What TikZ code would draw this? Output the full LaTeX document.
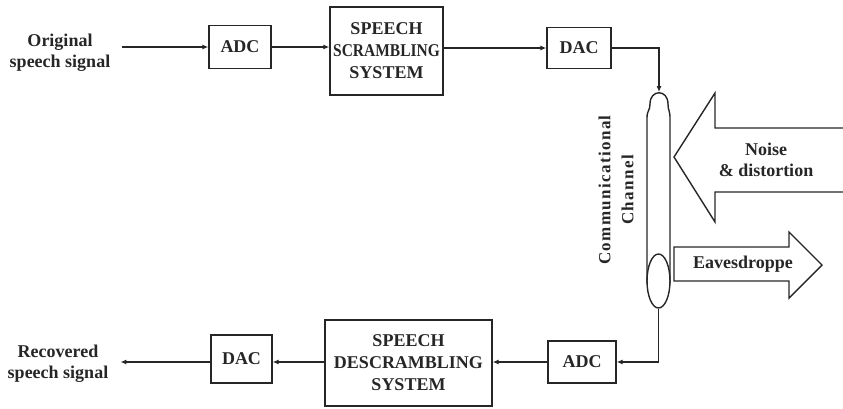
\documentclass[tikz,border=0pt]{standalone}
\usepackage{fontspec}
\setmainfont{Liberation Serif}
\newfontfamily\spacedfont{Liberation Serif}[LetterSpace=8]
\usetikzlibrary{arrows.meta,shapes.geometric,calc}
\definecolor{ink}{gray}{0.15}
\begin{document}
\begin{tikzpicture}[x=1pt,y=-1pt,
  lbl/.style={font=\fontsize{18}{21}\selectfont\bfseries, text=ink, align=center, inner sep=0pt},
  blk/.style={draw=ink, line width=1.4pt, rectangle, font=\fontsize{18}{22}\selectfont\bfseries, text=ink, align=center, inner sep=0pt},
  arr/.style={-{Latex[length=6pt,width=5pt]}, draw=ink, line width=1.1pt},
  wire/.style={draw=ink, line width=1.1pt},
  bigarrow/.style={draw=ink, line width=1.4pt, line join=miter},
]
\useasboundingbox (0,0) rectangle (843,408);

% top row
\node[lbl] (orig) at (60,53) {Original\\speech signal};
\node[blk, minimum width=62pt, minimum height=43pt] (adc1) at (240,47) {ADC};
\node[blk, minimum width=113pt, minimum height=88pt] (scr) at (386.5,51) {SPEECH\\\scalebox{0.86}[1]{SCRAMBLING}\\SYSTEM};
\node[blk, minimum width=64pt, minimum height=41pt] (dac1) at (579,48) {DAC};

% channel
\coordinate (tubetop) at (659,92);
\draw[bigarrow] (647,283) -- (647,118) .. controls (647,110) and (650,111) .. (650,104)
  .. controls (650,89) and (668,89) .. (668,104)
  .. controls (668,111) and (670,110) .. (670,118) -- (670,283);
\node[draw=ink, line width=1.4pt, ellipse, minimum width=23pt, minimum height=54pt, inner sep=0pt] (chbot) at (658.5,281) {};
\node[lbl, rotate=90, font=\fontsize{17}{23}\selectfont\bfseries\spacedfont] (chlbl) at (616,190) {Communicational\\Channel};

% noise arrow
\draw[bigarrow] (843,128) -- (715,128) -- (715,93) -- (674,157) -- (715,222) -- (715,192) -- (843,192);
\node[lbl] (noise) at (766,160) {Noise\\\& distortion};

% eavesdropper arrow
\draw[bigarrow] (674,247) -- (789,247) -- (789,232) -- (822,265) -- (789,298) -- (789,281) -- (674,281) -- cycle;
\node[lbl] (eaves) at (743,264) {Eavesdroppe};

% bottom row
\node[blk, minimum width=68pt, minimum height=42pt] (adc2) at (582,362) {ADC};
\node[blk, minimum width=167pt, minimum height=86pt] (desc) at (408.5,363) {SPEECH\\DESCRAMBLING\\SYSTEM};
\node[blk, minimum width=61pt, minimum height=48pt] (dac2) at (241.5,359) {DAC};
\node[lbl] (rec) at (58,364) {Recovered\\speech signal};

% connectors top
\draw[arr, shorten <=12pt] (orig.east |- adc1.west) -- (adc1.west);
\draw[arr] (adc1.east) -- (adc1.east -| scr.west);
\draw[arr] (scr.east |- dac1.west) -- (dac1.west);
\draw[arr] (dac1.east) -| (tubetop);

% connectors bottom
\draw[arr] (chbot.south) |- (adc2.east);
\draw[arr] (adc2.west) -- (adc2.west -| desc.east);
\draw[arr] (desc.west |- adc2.west) -- (dac2.east |- adc2.west);
\draw[arr, shorten >=12pt] (dac2.west |- adc2.west) -- (rec.east |- adc2.west);
\end{tikzpicture}
\end{document}
